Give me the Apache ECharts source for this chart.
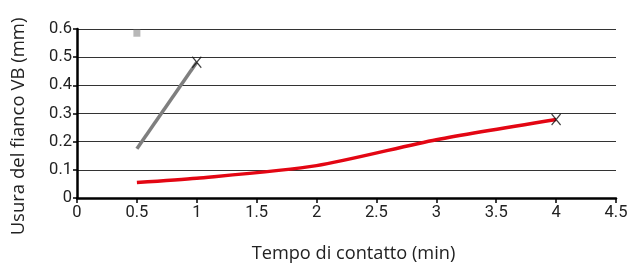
<!DOCTYPE html>
<html><head><meta charset="utf-8">
<script src="https://cdn.jsdelivr.net/npm/echarts@6/dist/echarts.min.js"></script>
<style>html,body{margin:0;padding:0;background:#fff}#c{width:627px;height:264px}</style>
</head><body><div id="c"></div>
<script>
const redX = [0.5, 1, 2, 3, 4];
const redY = [0.055, 0.07, 0.115, 0.207, 0.279];
const grayX = [0.5, 1];
const grayY = [0.175, 0.482];
const endMarksX = [1, 4];
const endMarksY = [0.482, 0.279];
const squareX = [0.5];
const squareY = [0.585];
const xTitle = 'Tempo di contatto (min)';
const yTitle = 'Usura del fianco VB (mm)';

const zip = (a, b) => a.map((v, i) => [v, b[i]]);
const tickFont = 'Roboto';
const titleFont = 'Open Sans';
const chart = echarts.init(document.getElementById('c'));
chart.setOption({
  animation: false,
  grid: {left: 77, right: 11, top: 29, bottom: 66, outerBoundsMode: 'none', containLabel: false},
  xAxis: {
    type: 'value', min: 0, max: 4.5, interval: 0.5,
    name: xTitle, nameLocation: 'middle', nameGap: 47,
    nameTextStyle: {fontFamily: titleFont, fontSize: 18.2, color: '#222', padding: [0, 0, 0, 14]},
    axisLine: {show: true, lineStyle: {color: '#000', width: 2.5}},
    axisTick: {show: true, length: 5, lineStyle: {color: '#000', width: 1.5}},
    axisLabel: {fontFamily: tickFont, fontSize: 16.5, color: '#222', margin: 6},
    splitLine: {show: false}
  },
  yAxis: {
    type: 'value', min: 0, max: 0.6, interval: 0.1,
    name: yTitle, nameLocation: 'middle', nameGap: 49,
    nameTextStyle: {fontFamily: titleFont, fontSize: 18.5, color: '#222', padding: [0, 26, 0, 0]},
    axisLine: {show: true, lineStyle: {color: '#000', width: 2.5}},
    axisTick: {show: true, length: 4, lineStyle: {color: '#000', width: 1.5}},
    axisLabel: {fontFamily: tickFont, fontSize: 16.5, color: '#222', margin: 5,
      formatter: v => v === 0 ? '0' : v.toFixed(1)},
    splitLine: {show: true, lineStyle: {color: '#333', width: 1.2}}
  },
  series: [
    {type: 'line', data: zip(redX, redY), smooth: 0.25, showSymbol: false,
     lineStyle: {color: '#e30613', width: 3.5}, z: 3},
    {type: 'line', data: zip(grayX, grayY), showSymbol: false,
     lineStyle: {color: '#7f7f7f', width: 3.5}, z: 3},
    {type: 'scatter', data: zip(endMarksX, endMarksY),
     symbol: 'path://M0,0L10,12M10,0L0,12', symbolSize: [9, 11],
     itemStyle: {color: 'none', borderColor: '#111', borderWidth: 1.3}, z: 5},
    {type: 'scatter', data: zip(squareX, squareY), symbol: 'rect', symbolSize: 7,
     itemStyle: {color: '#a6a6a6'}, z: 4}
  ]
});
</script></body></html>
